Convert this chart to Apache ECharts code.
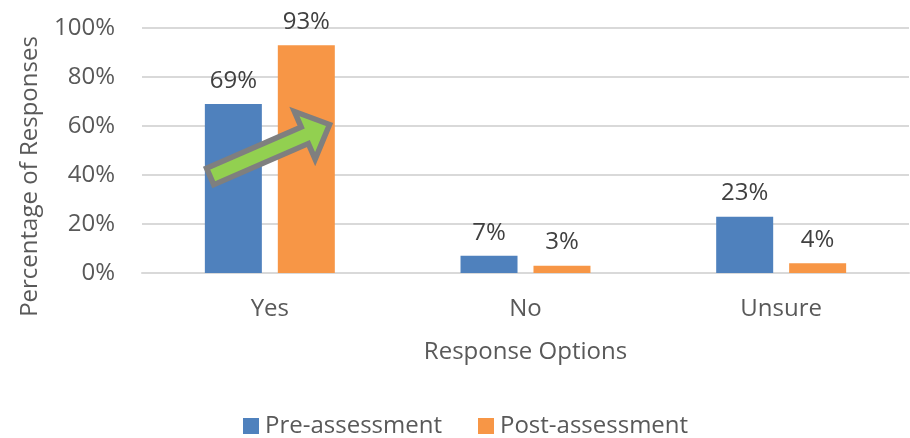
<!DOCTYPE html>
<html>
<head>
<meta charset="utf-8">
<script src="https://cdn.jsdelivr.net/npm/echarts@6/dist/echarts.min.js"></script>
<style>html,body{margin:0;padding:0;background:#fff}#c{width:910px;height:438px}</style>
</head>
<body>
<div id="c"></div>
<script>
var categories = ['Yes', 'No', 'Unsure'];
var preValues = [69, 7, 23];
var postValues = [93, 3, 4];
var yTicks = [0, 20, 40, 60, 80, 100];
var seriesNames = ['Pre-assessment', 'Post-assessment'];

var FONT = '"Open Sans", "Noto Sans", sans-serif';
var TXT = '#595959';
var FS = 24;
var chart = echarts.init(document.getElementById('c'), null, {renderer: 'canvas'});

var labelCfg = {show: true, position: 'top', distance: 11, formatter: '{c}%', color: '#404040', fontFamily: FONT, fontSize: FS};

chart.setOption({
  backgroundColor: '#ffffff',
  animation: false,
  grid: {left: 142, right: 1, top: 28, bottom: 165, containLabel: false},
  legend: {
    data: seriesNames, top: 409, left: 238, itemWidth: 16, itemHeight: 16, itemGap: 36, icon: 'rect',
    textStyle: {color: TXT, fontFamily: FONT, fontSize: FS, padding: [0, 0, 0, 1]}
  },
  xAxis: {
    type: 'category', data: categories,
    name: 'Response Options', nameLocation: 'middle', nameGap: 67,
    nameTextStyle: {color: TXT, fontFamily: FONT, fontSize: FS},
    axisLine: {lineStyle: {color: '#D9D9D9', width: 2}},
    axisTick: {show: false},
    axisLabel: {color: TXT, fontFamily: FONT, fontSize: FS, margin: 24}
  },
  yAxis: {
    type: 'value', min: yTicks[0], max: yTicks[yTicks.length - 1], interval: 20,
    name: 'Percentage of Responses', nameLocation: 'middle', nameGap: 100, nameRotate: 90,
    nameTextStyle: {color: TXT, fontFamily: FONT, fontSize: FS, padding: [0, 52, 0, 0]},
    axisLine: {show: false}, axisTick: {show: false},
    splitLine: {lineStyle: {color: '#D9D9D9', width: 2}},
    axisLabel: {color: TXT, fontFamily: FONT, fontSize: FS, margin: 27, formatter: '{value}%'}
  },
  series: [
    {name: seriesNames[0], type: 'bar', data: preValues, barWidth: 57, barGap: '28%',
     itemStyle: {color: '#4F81BD'}, label: labelCfg},
    {name: seriesNames[1], type: 'bar', data: postValues, barWidth: 57,
     itemStyle: {color: '#F79646'}, label: labelCfg}
  ]
});

// Decorative arrow from pre to post bar for "Yes", positioned via the axes
var tail = chart.convertToPixel({gridIndex: 0}, [0, 39]);
var tip = chart.convertToPixel({gridIndex: 0}, [0, 61]);
tail[0] -= 62; tip[0] += 62;
var dx = tip[0] - tail[0], dy = tip[1] - tail[1];
var L = Math.sqrt(dx * dx + dy * dy) - 5;
var ang = Math.atan2(dy, dx);
var sw = 9, hw = 26, hl = 27;
var local = [[0, -sw], [L - hl, -sw], [L - hl, -hw], [L, 0], [L - hl, hw], [L - hl, sw], [0, sw]];
var ca = Math.cos(ang), sa = Math.sin(ang);
var pts = local.map(function (p) {
  return [tail[0] + 2.5 * ca + p[0] * ca - p[1] * sa, tail[1] + 2.5 * sa + p[0] * sa + p[1] * ca];
});
chart.setOption({
  graphic: [{
    type: 'polygon', z: 100,
    shape: {points: pts},
    style: {fill: '#92D050', stroke: '#7F7F7F', lineWidth: 5.5, lineJoin: 'miter'}
  }]
});
</script>
</body>
</html>
